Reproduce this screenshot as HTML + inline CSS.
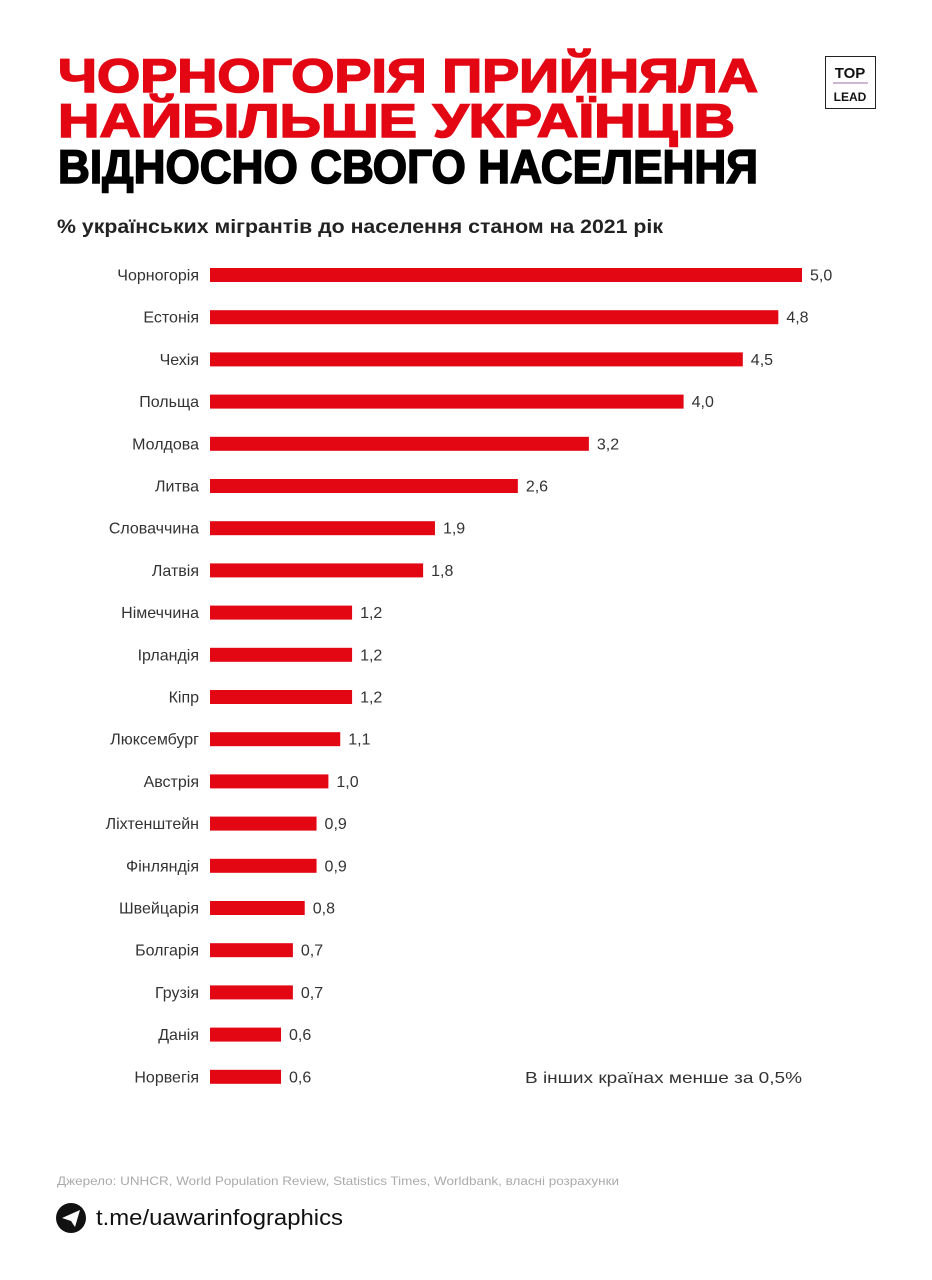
<!DOCTYPE html>
<html><head><meta charset="utf-8"><style>
html,body{margin:0;padding:0;background:#fff}
svg{display:block}
</style></head><body>
<svg width="932" height="1280" viewBox="0 0 932 1280" xmlns="http://www.w3.org/2000/svg" font-family="Liberation Sans, sans-serif">
<rect width="932" height="1280" fill="#fff"/>
<g font-weight="bold" font-size="47" stroke-width="1.6">
<text x="58" y="92" fill="#e30613" stroke="#e30613" textLength="700" lengthAdjust="spacingAndGlyphs">ЧОРНОГОРІЯ ПРИЙНЯЛА</text>
<text x="58" y="137" fill="#e30613" stroke="#e30613" textLength="677" lengthAdjust="spacingAndGlyphs">НАЙБІЛЬШЕ УКРАЇНЦІВ</text>
<text x="58" y="183" fill="#000" stroke="#000" textLength="700" lengthAdjust="spacingAndGlyphs">ВІДНОСНО СВОГО НАСЕЛЕННЯ</text>
</g>
<rect x="825.5" y="56.5" width="50" height="52" fill="none" stroke="#222" stroke-width="1"/>
<text x="850" y="78" font-size="15" font-weight="bold" text-anchor="middle" fill="#111">TOP</text>
<line x1="833" y1="83" x2="868" y2="83" stroke="#9b6fa8" stroke-width="1"/>
<text x="850" y="101" font-size="12" font-weight="bold" text-anchor="middle" fill="#111">LEAD</text>
<text x="57" y="233" font-size="19" font-weight="bold" fill="#222" textLength="606" lengthAdjust="spacingAndGlyphs">% українських мігрантів до населення станом на 2021 рік</text>
<g id="bars" font-size="16" fill="#333"></g>
<text x="525" y="1083" font-size="16" fill="#333" textLength="277" lengthAdjust="spacingAndGlyphs">В інших країнах менше за 0,5%</text>
<text x="57" y="1185" font-size="12" fill="#aaa" textLength="562" lengthAdjust="spacingAndGlyphs">Джерело: UNHCR, World Population Review, Statistics Times, Worldbank, власні розрахунки</text>
<circle cx="71" cy="1218" r="15" fill="#111"/>
<path d="M62 1218 L80 1210 L75 1227 L71 1221 Z" fill="#fff"/>
<text x="96" y="1225" font-size="22" fill="#111" textLength="247" lengthAdjust="spacingAndGlyphs">t.me/uawarinfographics</text>
</svg>
<script>
var d=[["Чорногорія",5.0],["Естонія",4.8],["Чехія",4.5],["Польща",4.0],["Молдова",3.2],["Литва",2.6],["Словаччина",1.9],["Латвія",1.8],["Німеччина",1.2],["Ірландія",1.2],["Кіпр",1.2],["Люксембург",1.1],["Австрія",1.0],["Ліхтенштейн",0.9],["Фінляндія",0.9],["Швейцарія",0.8],["Болгарія",0.7],["Грузія",0.7],["Данія",0.6],["Норвегія",0.6]];
var g=document.getElementById("bars"),h="";
d.forEach(function(r,i){var c=275+i*42.2,w=r[1]*118.4;
h+='<text x="199" y="'+(c+5.5)+'" text-anchor="end">'+r[0]+'</text>';
h+='<rect x="210" y="'+(c-7)+'" width="'+w+'" height="14" fill="#e30613"/>';
h+='<text x="'+(210+w+8)+'" y="'+(c+5.5)+'">'+r[1].toFixed(1).replace(".",",")+'</text>';});
g.innerHTML=h;
</script>
</body></html>
